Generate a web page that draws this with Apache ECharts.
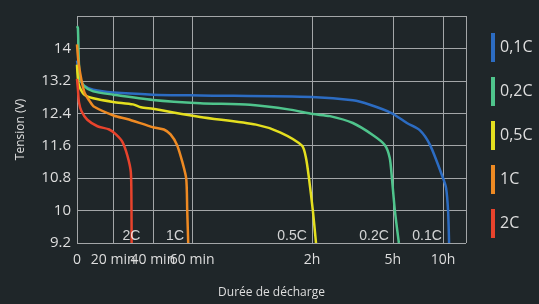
<!DOCTYPE html>
<html>
<head>
<meta charset="utf-8">
<script src="https://cdn.jsdelivr.net/npm/echarts@6/dist/echarts.min.js"></script>
<style>
  html, body { margin: 0; padding: 0; background: #1f2629; }
  #chart { width: 539px; height: 304px; }
</style>
</head>
<body>
<div id="chart"></div>
<script>
// time axis is broken: linear up to 2h, then compressed
const tickMinutes = [0, 20, 40, 60, 120, 300, 600];
const tickLabels = ["0", "20 min", "40 min", "60 min", "2h", "5h", "10h"];
const tickPos = [0, 0.93, 1.95, 2.96, 6.04, 8.12, 9.41];
const axisEnd = 10;

const yTicks = [9.2, 10, 10.8, 11.6, 12.4, 13.2, 14];

const seriesNames = ["0,1C", "0,2C", "0,5C", "1C", "2C"];
const seriesColors = ["#2c6cc2", "#4fc48c", "#e4df1f", "#ee8a23", "#e8432c"];

// [minutes, volts]
const c01 = [[0, 13.7], [1, 13.4], [2, 13.2], [4, 13.08], [9, 12.98], [20, 12.91], [40, 12.86], [64, 12.84],
  [120, 12.8], [211, 12.72], [249, 12.61], [298, 12.4], [384, 12.16], [462, 11.98], [522, 11.62],
  [600, 10.8], [618, 10.56], [630, 10.0], [636, 9.2]];
const c02 = [[0, 14.55], [0.5, 14.5], [1.5, 13.3], [4, 13.07], [9, 12.94], [20, 12.86], [40, 12.73], [64, 12.65],
  [89, 12.61], [109, 12.49], [122, 12.38], [160, 12.33], [211, 12.16], [256, 11.86], [282, 11.62],
  [293, 11.3], [298, 10.78], [312, 10.0], [336, 9.2]];
const c05 = [[0, 13.6], [1, 13.1], [4, 12.86], [9, 12.77], [20, 12.68], [30, 12.62], [34, 12.55], [40, 12.51],
  [64, 12.31], [92, 12.12], [104, 11.93], [115, 11.6], [117, 11.3], [118.5, 10.8], [122, 10.0], [129, 9.2]];
const c1 = [[0, 14.1], [1, 13.6], [4, 12.93], [7, 12.7], [9.5, 12.56], [20.5, 12.34], [27, 12.26], [40.5, 12.05],
  [45.6, 12.0], [49, 11.88], [52.3, 11.62], [55, 11.2], [57, 10.78], [57.5, 10.0], [58, 9.2]];
const c2 = [[0, 13.25], [0.5, 13.0], [1.1, 12.67], [2.5, 12.45], [5.7, 12.24], [11.3, 12.08], [17.8, 12.0],
  [21.4, 11.88], [24.7, 11.69], [27.2, 11.35], [28.9, 10.95], [29.2, 10.23], [29.3, 9.2]];
const curves = [c01, c02, c05, c1, c2];

const rateLabels = ["2C", "1C", "0.5C", "0.2C", "0.1C"];
const rateLabelMinutes = [29.2, 51.3, 110, 258, 504];
const rateLabelVolt = 9.36;

function toPos(m) {
  for (let i = 1; i < tickMinutes.length; i++) {
    if (m <= tickMinutes[i] || i === tickMinutes.length - 1) {
      const t = (m - tickMinutes[i - 1]) / (tickMinutes[i] - tickMinutes[i - 1]);
      return tickPos[i - 1] + t * (tickPos[i] - tickPos[i - 1]);
    }
  }
  return 0;
}

const textColor = "#dedede";
const gridColor = "#a3a6a8";

const chart = echarts.init(document.getElementById("chart"));

const series = curves.map((c, i) => ({
  name: seriesNames[i],
  type: "line",
  data: c.map(p => [toPos(p[0]), p[1]]),
  showSymbol: false,
  smooth: 0.25,
  lineStyle: { color: seriesColors[i], width: 2.5 },
  itemStyle: { color: seriesColors[i] },
  z: 3 + i
}));

series.push({
  type: "scatter",
  symbolSize: 0,
  silent: true,
  z: 10,
  data: rateLabels.map((n, i) => ({ name: n, value: [toPos(rateLabelMinutes[i]), rateLabelVolt] })),
  label: {
    show: true,
    position: "inside",
    formatter: "{b}",
    color: "#ffffff",
    fontFamily: "Liberation Sans",
    fontSize: 14
  }
});

chart.setOption({
  backgroundColor: "#1f2629",
  animation: false,
  grid: { left: 77, right: 73, top: 16, bottom: 60 },
  legend: {
    data: seriesNames,
    orient: "vertical",
    left: 486,
    top: 28,
    itemWidth: 4,
    itemHeight: 29,
    itemGap: 15,
    icon: "rect",
    textStyle: { color: textColor, fontFamily: "Open Sans", fontSize: 16 }
  },
  xAxis: {
    type: "value",
    min: 0,
    max: axisEnd,
    name: "Durée de décharge",
    nameLocation: "middle",
    nameGap: 44,
    nameTextStyle: { color: textColor, fontFamily: "Open Sans", fontSize: 12 },
    axisLine: { show: false },
    axisTick: { show: false, customValues: tickPos.concat([axisEnd]) },
    axisLabel: {
      customValues: tickPos,
      formatter: v => {
        const i = tickPos.findIndex(p => Math.abs(p - v) < 1e-6);
        return i >= 0 ? tickLabels[i] : "";
      },
      color: textColor,
      fontFamily: "Open Sans",
      fontSize: 14,
      margin: 10
    },
    splitLine: { show: true, lineStyle: { color: gridColor, width: 1 } }
  },
  yAxis: {
    type: "value",
    min: 9.2,
    max: 14.8,
    interval: 0.8,
    name: "Tension (V)",
    nameLocation: "middle",
    nameGap: 50,
    nameTextStyle: { color: textColor, fontFamily: "Open Sans", fontSize: 12 },
    axisLine: { show: false },
    axisTick: { show: false },
    axisLabel: {
      formatter: v => {
        const r = Math.round(v * 10) / 10;
        return yTicks.some(t => Math.abs(t - r) < 1e-6) ? String(r) : "";
      },
      color: textColor,
      fontFamily: "Open Sans",
      fontSize: 15,
      margin: 6
    },
    splitLine: { show: true, lineStyle: { color: gridColor, width: 1 } }
  },
  series: series
});
</script>
</body>
</html>
